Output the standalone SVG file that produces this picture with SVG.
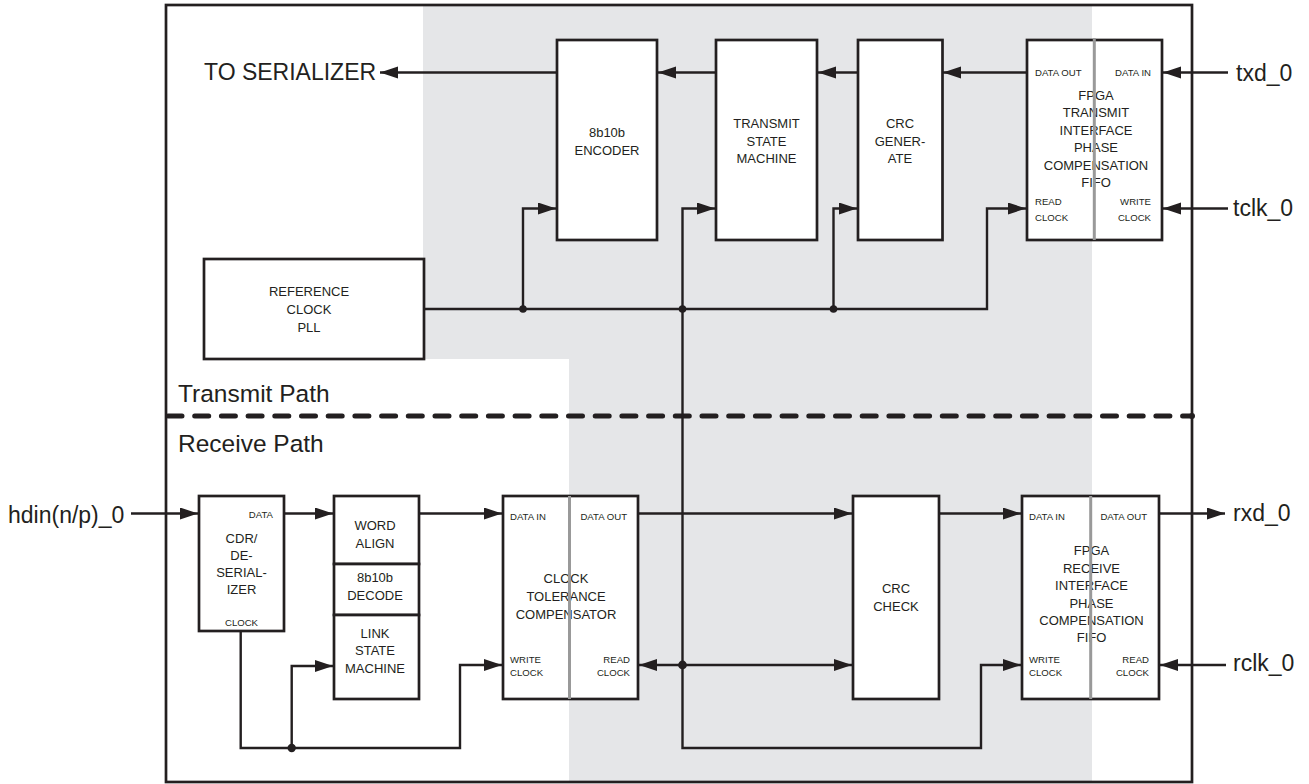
<svg xmlns="http://www.w3.org/2000/svg" width="1309" height="784" viewBox="0 0 1309 784">
<defs>
<marker id="ah" markerUnits="userSpaceOnUse" markerWidth="19" markerHeight="13" refX="18" refY="6" orient="auto">
<path d="M0,0 L18,6 L0,12 z" fill="#231f20"/>
</marker>
<style>
.box{fill:#fff;stroke:#231f20;stroke-width:2.7}
.arr{fill:none;stroke:#231f20;stroke-width:2.4;marker-end:url(#ah)}
.dot{fill:#231f20}
.div{stroke:#999;stroke-width:3}
text{font-family:"Liberation Sans",Arial,sans-serif;fill:#231f20}
.t13{font-size:13px;text-anchor:middle}
.t9{font-size:9.6px}
.r{text-anchor:end}
.big{font-size:23px}
.sec{font-size:24.5px}
</style>
</defs>
<rect width="1309" height="784" fill="#fff"/>
<polygon points="423,5 1092,5 1092,782 569,782 569,359 423,359" fill="#e5e6e8"/>
<rect x="166" y="5" width="1026" height="777" fill="none" stroke="#231f20" stroke-width="2.7"/>
<line x1="168" y1="416" x2="1190" y2="416" stroke="#231f20" stroke-width="5" stroke-linecap="round" stroke-dasharray="14 12.7"/>
<circle cx="1192" cy="416" r="3" class="dot"/>
<text x="178" y="402" class="sec">Transmit Path</text>
<text x="178" y="452" class="sec">Receive Path</text>

<g id="connectors">
<line x1="557" y1="72.5" x2="380" y2="72.5" class="arr"/>
<line x1="716" y1="72.5" x2="658" y2="72.5" class="arr"/>
<line x1="858" y1="72.5" x2="818" y2="72.5" class="arr"/>
<line x1="1027" y1="72.5" x2="943" y2="72.5" class="arr"/>
<line x1="1228" y1="72.5" x2="1163" y2="72.5" class="arr"/>
<line x1="1228" y1="208.5" x2="1163" y2="208.5" class="arr"/>
<polyline points="424,309 987,309 987,208.5 1026,208.5" class="arr"/>
<polyline points="523,309 523,208.5 556,208.5" class="arr"/>
<polyline points="682.5,309 682.5,208.5 715,208.5" class="arr"/>
<polyline points="833.5,309 833.5,208.5 857,208.5" class="arr"/>
<polyline points="682.5,309 682.5,748 981,748 981,665 1021,665" class="arr"/>
<line x1="131" y1="513.5" x2="198" y2="513.5" class="arr"/>
<line x1="284" y1="513.5" x2="333" y2="513.5" class="arr"/>
<line x1="419" y1="513.5" x2="502" y2="513.5" class="arr"/>
<line x1="638" y1="513.5" x2="852" y2="513.5" class="arr"/>
<line x1="939" y1="513.5" x2="1021" y2="513.5" class="arr"/>
<line x1="1159" y1="513.5" x2="1225" y2="513.5" class="arr"/>
<line x1="1226" y1="665" x2="1160" y2="665" class="arr"/>
<polyline points="240.7,631 240.7,748 460,748 460,665 502,665" class="arr"/>
<polyline points="291.7,748 291.7,666 333,666" class="arr"/>
<line x1="682.5" y1="665" x2="639" y2="665" class="arr"/>
<line x1="682.5" y1="665" x2="852" y2="665" class="arr"/>
<circle cx="523" cy="309" r="3.8" class="dot"/>
<circle cx="682.5" cy="309" r="3.8" class="dot"/>
<circle cx="833.5" cy="309" r="3.8" class="dot"/>
<circle cx="682.5" cy="665" r="4.4" class="dot"/>
<circle cx="291.7" cy="748" r="4.2" class="dot"/>
</g>

<g id="labels-external">
<text x="204" y="80" class="big">TO SERIALIZER</text>
<text x="1236" y="81" class="big">txd_0</text>
<text x="1233" y="216" class="big">tclk_0</text>
<text x="8" y="523" class="big">hdin(n/p)_0</text>
<text x="1233" y="521" class="big">rxd_0</text>
<text x="1233" y="671" class="big">rclk_0</text>
</g>

<g id="refclk">
<rect x="204" y="259" width="220" height="100" class="box"/>
<text x="309" y="296" class="t13">REFERENCE</text>
<text x="309" y="314" class="t13">CLOCK</text>
<text x="309" y="332" class="t13">PLL</text>
</g>

<g id="encoder">
<rect x="557" y="40" width="100" height="200" class="box"/>
<text x="607" y="137" class="t13">8b10b</text>
<text x="607" y="154.5" class="t13">ENCODER</text>
</g>

<g id="tx-sm">
<rect x="716" y="40" width="101" height="200" class="box"/>
<text x="766.5" y="128" class="t13">TRANSMIT</text>
<text x="766.5" y="145.5" class="t13">STATE</text>
<text x="766.5" y="163" class="t13">MACHINE</text>
</g>

<g id="crc-gen">
<rect x="858" y="40" width="84.5" height="200" class="box"/>
<text x="900" y="128" class="t13">CRC</text>
<text x="900" y="145.5" class="t13">GENER-</text>
<text x="900" y="163" class="t13">ATE</text>
</g>

<g id="tx-fifo">
<rect x="1027" y="40" width="135" height="200" class="box"/>
<text x="1035" y="76" class="t9">DATA OUT</text>
<text x="1151" y="76" class="t9 r">DATA IN</text>
<text x="1096" y="99.5" class="t13">FPGA</text>
<text x="1096" y="117" class="t13">TRANSMIT</text>
<text x="1096" y="134.5" class="t13">INTERFACE</text>
<text x="1096" y="152" class="t13">PHASE</text>
<text x="1096" y="169.5" class="t13">COMPENSATION</text>
<text x="1096" y="186.5" class="t13">FIFO</text>
<text x="1035" y="205" class="t9">READ</text>
<text x="1035" y="220.5" class="t9">CLOCK</text>
<text x="1151" y="205" class="t9 r">WRITE</text>
<text x="1151" y="220.5" class="t9 r">CLOCK</text>
<line x1="1094.3" y1="38" x2="1094.3" y2="240" class="div"/>
</g>

<g id="cdr">
<rect x="199" y="496" width="85" height="135" class="box"/>
<text x="273" y="517.5" class="t9 r">DATA</text>
<text x="241.5" y="543" class="t13">CDR/</text>
<text x="241.5" y="560" class="t13">DE-</text>
<text x="241.5" y="577" class="t13">SERIAL-</text>
<text x="241.5" y="594" class="t13">IZER</text>
<text x="241.5" y="626" class="t9" text-anchor="middle">CLOCK</text>
</g>

<g id="word-align">
<rect x="334" y="496" width="85" height="68" class="box"/>
<text x="375" y="530" class="t13">WORD</text>
<text x="375" y="548" class="t13">ALIGN</text>
</g>
<g id="decode">
<rect x="334" y="564" width="85" height="51" class="box"/>
<text x="375" y="582" class="t13">8b10b</text>
<text x="375" y="600" class="t13">DECODE</text>
</g>
<g id="link-sm">
<rect x="334" y="615" width="85" height="84" class="box"/>
<text x="375" y="637.5" class="t13">LINK</text>
<text x="375" y="655" class="t13">STATE</text>
<text x="375" y="673" class="t13">MACHINE</text>
</g>

<g id="ctc">
<rect x="503" y="496" width="135" height="203" class="box"/>
<text x="510" y="520" class="t9">DATA IN</text>
<text x="627" y="520" class="t9 r">DATA OUT</text>
<text x="566" y="583" class="t13">CLOCK</text>
<text x="566" y="601" class="t13">TOLERANCE</text>
<text x="566" y="619" class="t13">COMPENSATOR</text>
<text x="510" y="663" class="t9">WRITE</text>
<text x="510" y="676" class="t9">CLOCK</text>
<text x="630" y="663" class="t9 r">READ</text>
<text x="630" y="676" class="t9 r">CLOCK</text>
<line x1="569.5" y1="496" x2="569.5" y2="699" class="div"/>
</g>

<g id="crc-check">
<rect x="853" y="496" width="86" height="203" class="box"/>
<text x="896" y="593" class="t13">CRC</text>
<text x="896" y="611" class="t13">CHECK</text>
</g>

<g id="rx-fifo">
<rect x="1022" y="496" width="137" height="203" class="box"/>
<text x="1029" y="520" class="t9">DATA IN</text>
<text x="1147" y="520" class="t9 r">DATA OUT</text>
<text x="1091.5" y="555" class="t13">FPGA</text>
<text x="1091.5" y="572.5" class="t13">RECEIVE</text>
<text x="1091.5" y="590" class="t13">INTERFACE</text>
<text x="1091.5" y="607.5" class="t13">PHASE</text>
<text x="1091.5" y="625" class="t13">COMPENSATION</text>
<text x="1091.5" y="641.5" class="t13">FIFO</text>
<text x="1029" y="663" class="t9">WRITE</text>
<text x="1029" y="676" class="t9">CLOCK</text>
<text x="1149" y="663" class="t9 r">READ</text>
<text x="1149" y="676" class="t9 r">CLOCK</text>
<line x1="1090.7" y1="496" x2="1090.7" y2="699" class="div"/>
</g>
</svg>
